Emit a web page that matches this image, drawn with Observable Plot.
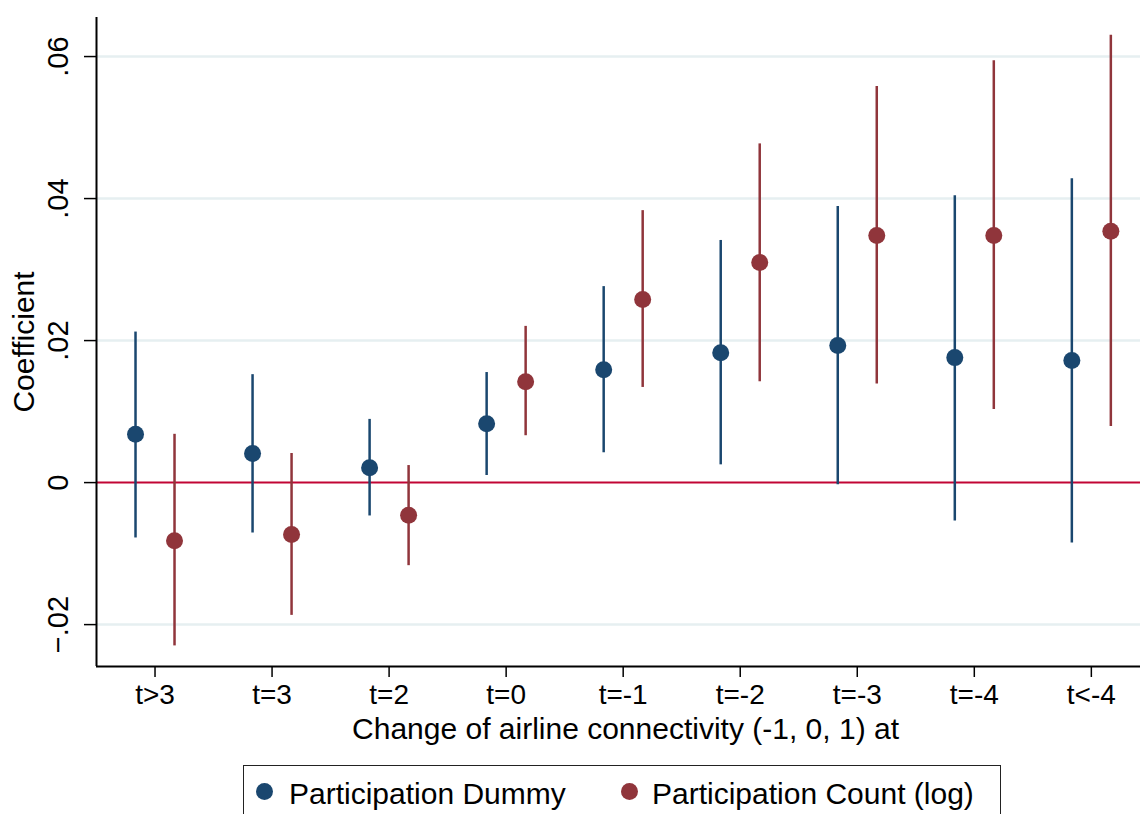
<!DOCTYPE html>
<html>
<head>
<meta charset="utf-8">
<script src="https://cdn.jsdelivr.net/npm/d3@7"></script>
<script src="https://cdn.jsdelivr.net/npm/@observablehq/plot@0.6"></script>
<style>
  body { margin: 0; background: #fff; font-family: "Liberation Sans", Arial, sans-serif; }
  #legend {
    position: absolute; left: 243px; top: 765px; width: 758px; height: 70px;
    border: 1.5px solid #222; box-sizing: border-box; background: #fff;
  }
  .item { position: absolute; top: 12px; font-size: 30px; color: #000; white-space: nowrap; line-height: 32px; }
  .dot { position: absolute; width: 17px; height: 17px; border-radius: 50%; top: 17px; }
</style>
</head>
<body>
<div id="chart"></div>
<div id="legend">
  <span class="dot" style="left:12px;background:#1a476f"></span>
  <span class="item" style="left:45px">Participation Dummy</span>
  <span class="dot" style="left:377px;background:#90353b"></span>
  <span class="item" style="left:408px">Participation Count (log)</span>
</div>
<script>
const categories = ["t>3", "t=3", "t=2", "t=0", "t=-1", "t=-2", "t=-3", "t=-4", "t<-4"];
const dummyCoef = [0.0068, 0.0041, 0.0021, 0.0083, 0.0159, 0.0183, 0.0193, 0.0176, 0.0172];
const dummyLo   = [-0.0078, -0.0071, -0.0047, 0.0010, 0.0042, 0.0025, -0.0003, -0.0054, -0.0085];
const dummyHi   = [0.0212, 0.0152, 0.0089, 0.0155, 0.0276, 0.0341, 0.0389, 0.0404, 0.0428];
const countCoef = [-0.0082, -0.0073, -0.0046, 0.0142, 0.0258, 0.0310, 0.0348, 0.0348, 0.0354];
const countLo   = [-0.0230, -0.0187, -0.0117, 0.0066, 0.0134, 0.0142, 0.0139, 0.0103, 0.0079];
const countHi   = [0.0068, 0.0041, 0.0024, 0.0220, 0.0383, 0.0477, 0.0558, 0.0594, 0.0630];
const yTicks = [-0.02, 0, 0.02, 0.04, 0.06];
const xTitle = "Change of airline connectivity (-1, 0, 1) at";
const yTitle = "Coefficient";

const blue = "#1a476f", red = "#90353b";
const dummy = categories.map((c, i) => ({i, coef: dummyCoef[i], lo: dummyLo[i], hi: dummyHi[i]}));
const count = categories.map((c, i) => ({i, coef: countCoef[i], lo: countLo[i], hi: countHi[i]}));
const fmt = v => v === 0 ? "0" : d3.format(".2f")(v).replace("0.", ".");
const xDomain = [-0.5, 8.42], yDomain = [-0.0259, 0.0655];
const off = 19.5;

const chart = Plot.plot({
  width: 1140, height: 760,
  marginLeft: 96, marginRight: 0, marginTop: 17, marginBottom: 94,
  style: {fontFamily: "'Liberation Sans', Arial, sans-serif", background: "#fff", color: "#000"},
  x: {domain: xDomain, label: null},
  y: {domain: yDomain, label: null},
  marks: [
    Plot.gridY(yTicks.filter(d => d !== 0), {stroke: "#e6eff1", strokeOpacity: 1, strokeWidth: 2.5}),
    Plot.ruleY([0], {stroke: "#c10534", strokeWidth: 2}),
    Plot.ruleX(dummy, {x: "i", y1: "lo", y2: "hi", stroke: blue, strokeWidth: 2.5, dx: -off}),
    Plot.ruleX(count, {x: "i", y1: "lo", y2: "hi", stroke: red, strokeWidth: 2.5, dx: off}),
    Plot.dot(dummy, {x: "i", y: "coef", r: 8.5, fill: blue, dx: -off}),
    Plot.dot(count, {x: "i", y: "coef", r: 8.5, fill: red, dx: off}),
    Plot.ruleX([xDomain[0]], {stroke: "#000", strokeWidth: 2}),
    Plot.ruleY([yDomain[0]], {stroke: "#000", strokeWidth: 2}),
    Plot.axisY(yTicks, {tickSize: 12, tickFormat: () => "", label: null, stroke: "#000", strokeWidth: 1.5}),
    Plot.text(yTicks, {y: d => d, text: fmt, frameAnchor: "left", textAnchor: "middle", rotate: -90, dx: -38, fontSize: 29, fill: "#000"}),
    Plot.text([yTitle], {frameAnchor: "left", textAnchor: "middle", rotate: -90, dx: -72, fontSize: 30, fill: "#000"}),
    Plot.axisX(d3.range(categories.length), {tickSize: 11, tickPadding: 7, tickFormat: i => categories[i], fontSize: 28, label: null, stroke: "#000", strokeWidth: 1.5, fill: "#000"}),
    Plot.text([xTitle], {frameAnchor: "bottom", textAnchor: "middle", dx: 7, dy: 72, fontSize: 30, fill: "#000"})
  ]
});
document.getElementById("chart").appendChild(chart);
</script>
</body>
</html>
